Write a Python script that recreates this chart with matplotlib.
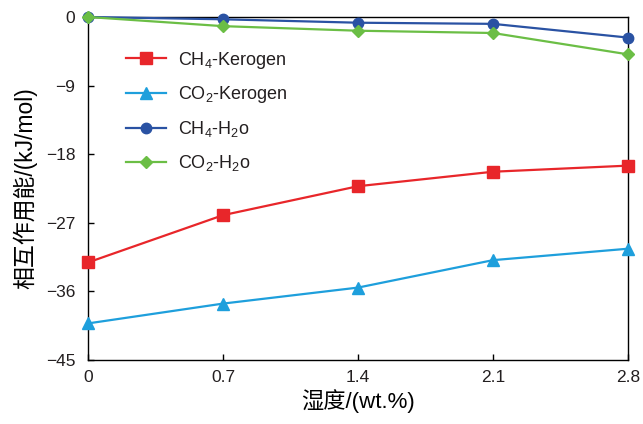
import matplotlib
matplotlib.use('Agg')
import matplotlib.pyplot as plt

plt.rcParams['font.family'] = ['Liberation Sans', 'Noto Sans CJK SC']
plt.rcParams['mathtext.fontset'] = 'custom'
plt.rcParams['mathtext.rm'] = 'Liberation Sans'
plt.rcParams['mathtext.it'] = 'Liberation Sans'
plt.rcParams['text.color'] = '#231F20'
plt.rcParams['xtick.labelcolor'] = '#231F20'
plt.rcParams['ytick.labelcolor'] = '#231F20'

# data
humidity = [0, 0.7, 1.4, 2.1, 2.8]
ch4_kerogen = [-32.2, -26.0, -22.2, -20.3, -19.5]
co2_kerogen = [-40.2, -37.6, -35.5, -31.9, -30.4]
ch4_h2o = [0, -0.3, -0.75, -0.9, -2.7]
co2_h2o = [0, -1.2, -1.8, -2.1, -4.9]

fig = plt.figure(figsize=(6.43, 4.24), dpi=100)
ax = fig.add_axes([88/643, 1-360/424, 540/643, 343/424])

ax.plot(humidity, ch4_kerogen, color='#E8262A', marker='s', ms=8, lw=1.6,
        label='CH$_4$-Kerogen', clip_on=False, zorder=3)
ax.plot(humidity, co2_kerogen, color='#1E9FDC', marker='^', ms=8.5, lw=1.6,
        label='CO$_2$-Kerogen', clip_on=False, zorder=3)
ax.plot(humidity, ch4_h2o, color='#2A52A3', marker='o', ms=7.5, lw=1.6,
        label='CH$_4$-H$_2$o', clip_on=False, zorder=4)
ax.plot(humidity, co2_h2o, color='#6BBE45', marker='D', ms=6, lw=1.6,
        label='CO$_2$-H$_2$o', clip_on=False, zorder=5)

ax.set_xlim(0, 2.8)
ax.set_ylim(-45, 0)
ax.set_xticks(humidity)
ax.set_xticklabels(['0', '0.7', '1.4', '2.1', '2.8'])
ax.set_yticks([0, -9, -18, -27, -36, -45])
ax.tick_params(direction='in', labelsize=12.5, length=4, width=1)
ax.tick_params(axis='x', pad=7)
ax.tick_params(axis='y', pad=9)
for s in ax.spines.values():
    s.set_linewidth(1)

ax.set_xlabel('湿度/(wt.%)', fontsize=16, labelpad=3)
ax.set_ylabel('相互作用能/(kJ/mol)', fontsize=16.5, labelpad=6)

ax.legend(loc='upper left', bbox_to_anchor=(0.04, 0.952), frameon=False,
          fontsize=13, handlelength=2.2, labelspacing=0.76, handletextpad=0.7)

fig.savefig('out.png', dpi=100)
